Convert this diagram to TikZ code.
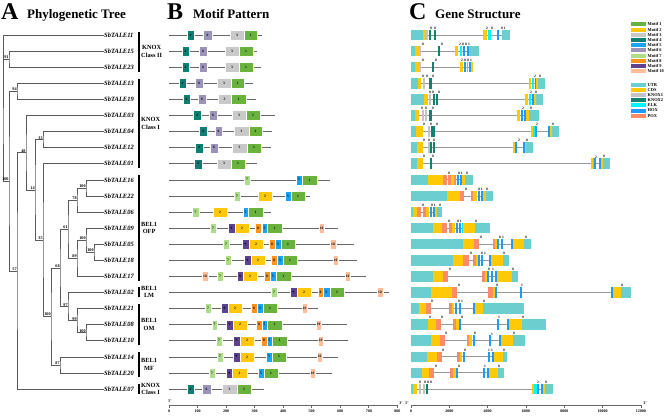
\documentclass[tikz,border=0pt]{standalone}
\usepackage{fontspec}
\setmainfont{Liberation Serif}

% motif colours
\definecolor{mc1}{HTML}{6AB23E}
\definecolor{mc2}{HTML}{FFC80A}
\definecolor{mc3}{HTML}{C9C9C9}
\definecolor{mc4}{HTML}{0F7F73}
\definecolor{mc5}{HTML}{1AA3F0}
\definecolor{mc6}{HTML}{9B93B8}
\definecolor{mc7}{HTML}{AEDC8A}
\definecolor{mc8}{HTML}{F7941D}
\definecolor{mc9}{HTML}{5E4290}
\definecolor{mc10}{HTML}{FBBE98}
% gene structure colours
\definecolor{gu}{HTML}{6CCFCF}
\definecolor{gc}{HTML}{FFC907}
\definecolor{gk}{HTML}{C3C3C3}
\definecolor{gd}{HTML}{138170}
\definecolor{ge}{HTML}{00F5FF}
\definecolor{gh}{HTML}{1E9BF7}
\definecolor{gp}{HTML}{F98C66}

\begin{document}
\begin{tikzpicture}[x=1pt, y=-1pt,
    leaf/.style={anchor=west, inner sep=0.5pt, font=\fontsize{6.5}{7}\selectfont\bfseries\itshape},
    boot/.style={anchor=south east, inner sep=0.2pt, font=\fontsize{4.2}{4.5}\selectfont\bfseries},
    branch/.style={draw=black!65, line width=0.6pt},
    grp/.style={anchor=west, align=center, inner sep=0pt, font=\fontsize{6.3}{7.6}\selectfont\bfseries},
    paneltitle/.style={anchor=base west, inner sep=0pt, font=\fontsize{13}{14}\selectfont\bfseries},
    panelletter/.style={anchor=base west, inner sep=0pt, font=\fontsize{24}{24}\selectfont\bfseries},
    mline/.style={draw=black!60, line width=0.6pt},
    mbox/.style={draw=white, line width=0.2pt, minimum height=10pt, inner sep=0pt,
                 font=\fontsize{3.6}{4}\selectfont\bfseries},
    gbox/.style={minimum height=10.5pt, inner sep=0pt},
    intron/.style={draw=black!40, line width=0.8pt},
    phase/.style={anchor=south, inner sep=0.2pt, font=\fontsize{3.6}{4}\selectfont\bfseries},
    legtxt/.style={anchor=west, inner sep=0pt, font=\fontsize{4.4}{4.6}\selectfont\bfseries},
    ticklbl/.style={inner sep=0.5pt, font=\fontsize{4}{4.5}\selectfont\bfseries}
]
  \useasboundingbox (0,0) rectangle (669,416);

  % Titles
  \node[panelletter] (la) at (1,19) {A};
  \node[paneltitle] (ta) at (27,18) {Phylogenetic Tree};
  \node[panelletter] (lb) at (167,19) {B};
  \node[paneltitle] (tb) at (193,18) {Motif Pattern};
  \node[panelletter] (lc) at (409,19) {C};
  \node[paneltitle] (tc) at (435,18) {Gene Structure};

  % Leaves
  \foreach \n [count=\r from 0] in {11,15,23,13,19,03,04,12,01,16,22,06,09,05,18,17,02,21,08,10,14,20,07}
    \node[leaf] (t\n) at (103.5,{35+16.09*\r}) {SbTALE\n};

  % Internal nodes
  \coordinate (root) at (3,108);
  \coordinate (n91) at (9,59.14);
  \coordinate (n100a) at (9,181.06);
  \coordinate (n94) at (17,91.32);
  \coordinate (n57) at (17,270.8);
  \coordinate (n48) at (26,152.63);
  \coordinate (n14) at (35,189.8);
  \coordinate (n33) at (43,139.59);
  \coordinate (n35) at (43,240.02);
  \coordinate (n100f) at (51,316.33);
  \coordinate (n68) at (60,267.8);
  \coordinate (n87) at (60,364.85);
  \coordinate (n61) at (68,229.09);
  \coordinate (n97) at (68,306.52);
  \coordinate (n78) at (77,199.92);
  \coordinate (n89) at (77,258.25);
  \coordinate (n99) at (77,320.6);
  \coordinate (n100b) at (86,187.86);
  \coordinate (n100c) at (86,240.15);
  \coordinate (n100e) at (86,332.67);
  \coordinate (n100d) at (94,252.22);

  % Branches
  \draw[branch] (t11.west) -| (root) |- (n100a);
  \draw[branch] (root) |- (n91);
  \foreach \p/\a/\b in {n91/t15.west/t23.west, n94/t13.west/t19.west, n33/t04.west/t12.west,
      n100b/t16.west/t22.west, n78/n100b/t06.west, n100d/t05.west/t18.west,
      n100c/t09.west/n100d, n89/n100c/t17.west, n61/n78/n89, n100e/t08.west/t10.west,
      n99/t21.west/n100e, n97/t02.west/n99, n68/n61/n97, n87/t14.west/t20.west,
      n100f/n68/n87, n35/t01.west/n100f, n14/n33/n35, n48/t03.west/n14,
      n57/n48/t07.west, n100a/n94/n57}
    \draw[branch] (\a) -| (\p) |- (\b);

  % Bootstrap values
  \foreach \p/\v in {n91/91, n94/94, n33/33, n100b/100, n78/78, n100d/100, n100c/100,
      n89/89, n61/61, n100e/100, n99/99, n97/97, n68/68, n87/87, n100f/100, n35/35,
      n14/14, n48/48, n57/57, n100a/100}
    \node[boot] (b\p) at (\p) {\v};

  % Subfamilies
  \foreach \a/\b/\txt [count=\i] in {31.5/71.5/{KNOX\\Class II}, 78.5/168/{KNOX\\Class I},
      175/281/{BEL1\\OFP}, 287/297/{BEL1\\LM}, 304/345/{BEL1\\OM}, 352/377/{BEL1\\MF},
      384/394/{KNOX\\Class I}} {
    \draw[line width=1.1pt] (139,\a) -- (139,\b);
    \node[grp] (g\i) at (141,{(\a+\b)/2}) {\txt};
  }

  % Motifs
  \foreach \r/\e/\ms in {
      0/262/{187/194/4,203/212/6,230/244/3,244/257/1},
      1/257/{182/189/4,199/207/6,225/239/3,239/253/1},
      2/261/{182/189/4,199/207/6,225/239/3,239/253/1},
      3/253/{179/186/4,195/203/6,217/231/3,231/244/1},
      4/256/{183/190/4,198/206/6,218/231/3,231/246/1},
      5/275/{193/201/4,209/217/6,232/246/3,246/260/1},
      6/272/{199/207/4,215/222/6,234/249/3,249/262/1},
      7/271/{195/203/4,210/218/6,232/247/3,247/261/1},
      8/257/{194/202/4,217/231/3,231/245/1},
      9/330/{244/250/7,296/302/5,302/317/1},
      10/310/{234/240/7,258/272/2,285/291/5,291/305/1},
      11/271/{192/199/7,213/227/2,243/248/5,248/263/1},
      12/338/{210/216/7,228/235/9,235/249/2,255/261/8,262/267/5,267/282/1,319/324/10},
      13/354/{223/229/7,242/249/9,249/263/2,269/275/8,275/281/5,281/295/1,330/336/10},
      14/357/{225/231/7,244/251/9,251/265/2,271/277/8,277/283/5,283/297/1,333/338/10},
      15/366/{202/208/10,217/223/7,237/243/9,243/257/2,264/270/8,270/276/5,276/291/1,345/350/10},
      16/389/{271/277/7,290/297/9,297/311/2,318/323/8,323/330/5,330/344/1,377/383/10},
      17/318/{205/211/7,221/228/9,228/242/2,251/257/8,257/263/5,263/277/1,302/307/10},
      18/347/{212/217/7,226/233/9,233/247/2,256/262/8,262/267/5,267/282/1,316/321/10},
      19/348/{216/222/7,233/240/9,240/254/2,261/267/8,267/272/5,272/287/1,318/323/10},
      20/338/{217/223/7,233/240/9,240/254/2,266/272/5,272/286/1,317/322/10},
      21/332/{209/215/7,226/232/9,232/247/2,258/264/5,264/278/1,310/315/10},
      22/264/{187/194/4,202/211/6,222/237/3,237/251/1}} {
    \pgfmathsetmacro\y{35+16.09*\r}
    \draw[mline] (169,\y) -- (\e,\y);
    \foreach \a/\b/\m [count=\i] in \ms {
      \pgfmathsetmacro\w{\b-\a}
      \node[mbox, fill=mc\m, minimum width=\w pt] (m\r-\i) at ({(\a+\b)/2},\y) {\m};
    }
  }

  % Gene structures
  \foreach \r/\e/\bl in {
      0/510/{411/423/u,423/426/c,426/428/k,429/430.5/d,434/436/d,483/487/c,488/491/e,497/499/h,502/510/u},
      1/479/{411/415/u,415/419/c,419/421/k,438/440/d,455/458/c,460/462/e,463/465/h,467/468.5/h,469/479/u},
      2/473/{411/415/u,415/419/c,419/421/k,432/434/d,460/463/c,464/466/h,466.5/468/e,469/471/h,471/473/c},
      3/545/{411/418/u,418/421/c,423/425/k,429/432/d,529/531/c,532/534/e,534.5/536/h,536/538/c,538/545/u},
      4/543/{411/424/u,424/428/c,429/431/k,433/435/d,436/438/d,525/528/c,529/531/e,532/534/h,534/536/c,536/543/u},
      5/539/{411/415/u,415/419/c,422/424/k,425/427/k,429/432/d,517/520/c,521/523/h,524/526/h,526/529/c,529/539/u},
      6/559/{411/416/u,416/423/c,428/430/k,431/432.5/d,433/435/d,531/533/c,533/535/e,535/537/h,548/550/h,550/552/c,552/559/u},
      7/533/{411/417/u,417/423/c,428/430/k,430/432/d,433/435/d,513/515/c,515/517/h,523/525/h,525/526/c,526/533/u},
      8/610/{411/417/u,417/423/c,430/432/d,591/593/c,593/594/e,594/596/h,599/601/h,601/603/c,603/610/u},
      9/473/{411/428/u,428/443/c,443/447/p,448/451/p,451/454/c,454/456/p,457/459/h,460/462/h,462/465/c,465/473/u},
      10/493/{411/447/u,447/460/c,460/464/p,471/473/p,473/477/c,478/480/h,481/483/h,483/486/c,486/493/u},
      11/442/{411/413/u,413/417/c,417/421/p,423/426/p,426/429/c,430/432/h,433/435/h,435/437/c,437/442/u},
      12/490/{411/433/u,433/442/c,442/447/p,449/452/p,452/455/c,456/458/h,459/461/h,461.5/463/e,463/475/c,475/490/u},
      13/531/{411/463/u,463/474/c,474/479/p,493/495/p,495/497/c,497/499/h,501/503/h,511/513/h,513/524/c,524/531/u},
      14/509/{411/453/u,453/463/c,463/469/p,473/476/p,476/478/c,478/480/h,481/483/h,489/491/h,491/503/c,503/509/u},
      15/518/{411/433/u,433/443/c,443/448/p,482/485/p,485/487/c,487/489/h,491/492.5/h,495/497/h,497/512/c,512/518/u},
      16/631/{411/431/u,431/452/c,452/457/p,488/493/p,493/495/c,495/496.5/h,520/521.5/h,611/612.5/h,612.5/621/c,621/631/u},
      17/524/{411/419/u,419/426/c,426/431/p,449/452/p,452/454/c,455/457/h,459/461/h,473/475/h,475/483/c,483/524/u},
      18/546/{411/428/u,428/436/c,436/441/p,453/456/p,456/459/c,459/461/h,497/499/h,507/508.5/h,508.5/522/c,522/546/u},
      19/525/{411/431/u,431/440/c,440/445/p,467/469/p,469/472/c,473/474.5/h,489/491/h,499/501/h,501/513/c,513/525/u},
      20/507/{411/427/u,427/437/c,437/442/p,457/460/p,460/462/c,463/464.5/h,488/489.5/h,492/493.5/h,493.5/503/c,503/507/u},
      21/504/{411/422/u,422/429/c,429/434/p,450/453/p,453/456/c,456/457.5/h,483/484.5/h,487/488.5/h,488.5/498/c,498/504/u},
      22/553/{411/413/u,413/417/c,419/421/k,423/425/k,426/428/d,532/534/c,534/537/e,537/539/h,541/543/h,543/545/c,545/553/u}} {
    \pgfmathsetmacro\y{35+16.09*\r}
    \draw[intron] (411,\y) -- (\e,\y);
    \foreach \a/\b/\t [count=\i] in \bl {
      \pgfmathsetmacro\w{\b-\a}
      \node[gbox, fill=g\t, minimum width=\w pt] (s\r-\i) at ({(\a+\b)/2},\y) {};
    }
  }

  % Intron phases
  \foreach \r/\ps in {
      0/{431/0,435/0,487/2,492/0,502/0,504.5/1}, 1/{423/0,442/0,460/2,463/0,466/0,469/1},
      2/{423/0,436/0,462/2,465/0,468/0,471/1}, 3/{423/0,427/0,433/0,535/2,540/0},
      4/{430/0,433/0,439/0,531/2,536/0}, 5/{422/0,426/0,433/0,523/2,531/0},
      6/{424/0,431/0,437/0,537/2,553/0}, 7/{424/0,429/0,434/0,519/2,527/0},
      8/{424/0,433/0,596/2,604/0}, 9/{449/0,459/0,461.5/1,467/0},
      10/{466/0,479/0,481.5/1,487/0}, 11/{423/0,432/0,434.5/1,440/0},
      12/{449/0,458/0,460.5/1,476/0}, 13/{481/0,500/0,503/1,526/0},
      14/{471/0,482/0,485/1,504/0}, 15/{450/0,489/0,493/1,513/0},
      16/{459/0,497/0,522/1,622/0}, 17/{432/0,459/0,462/1,484/0},
      18/{430/0,442/0,462/0,499/1,523/0}, 19/{446/0,475/0,492/1,514/0},
      20/{443/0,465/0,489/1,492/1,504/0}, 21/{436/0,459/0,485/1,499/0},
      22/{420/0,425/0,428/0,431/0,538/2,546/0}} {
    \pgfmathsetmacro\y{35+16.09*\r-5.3}
    \foreach \x/\v [count=\i] in \ps
      \node[phase] (f\r-\i) at (\x,\y) {\v};
  }

  % Legend
  \foreach \m [count=\i from 0] in {1,...,10} {
    \fill[mc\m] (631,{22.3+5.2*\i}) rectangle (646,{26.3+5.2*\i});
    \node[legtxt] (km\m) at (647.5,{24.3+5.2*\i}) {Motif \m};
  }
  \foreach \t/\s [count=\i from 0] in {u/UTR, c/CDS, k/KNOX1, d/KNOX2, e/ELK, h/HOX, p/POX} {
    \fill[g\t] (631,{83+5.1*\i}) rectangle (646,{87+5.1*\i});
    \node[legtxt] (kg\t) at (647.5,{85+5.1*\i}) {\s};
  }

  % Scales
  \draw[mline] (169,405) -- (397.3,405);
  \foreach \k in {0,...,8} {
    \pgfmathtruncatemacro\v{100*\k}
    \draw[mline] ({169+28.54*\k},405) -- ++(0,2.5);
    \node[ticklbl] (sb\k) at ({169+28.54*\k},411.5) {\v};
  }
  \draw[mline] (411,405) -- (641,405);
  \foreach \k in {0,...,6} {
    \pgfmathtruncatemacro\v{2000*\k}
    \draw[mline] ({411+38.33*\k},405) -- ++(0,2.5);
    \node[ticklbl] (sc\k) at ({411+38.33*\k},411.5) {\v};
  }
  \node[ticklbl] (b5) at (170,401.5) {5'};
  \node[ticklbl] (b3) at (401,403) {3'};
  \node[ticklbl] (c5) at (407,403) {5'};
  \node[ticklbl] (c3) at (645,403) {3'};
\end{tikzpicture}
\end{document}
